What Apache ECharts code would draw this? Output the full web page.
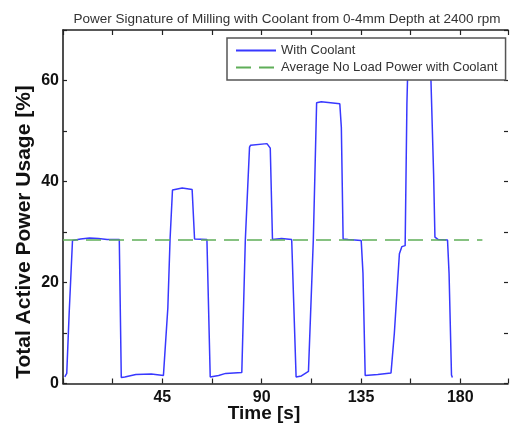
<!DOCTYPE html>
<html>
<head>
<meta charset="utf-8">
<script src="https://cdn.jsdelivr.net/npm/echarts@6/dist/echarts.min.js"></script>
<style>
  html, body { margin: 0; padding: 0; background: #fff; }
  #chart { width: 511px; height: 435px; }
</style>
</head>
<body>
<div id="chart"></div>
<script>
// Measured power trace while milling with coolant (time in s, power in %)
const timeSec = [
  0.8, 1.7, 2.8, 4.3, 8, 12, 16, 20, 25.5, 26.4, 28, 33, 40, 45.5,
  47.5, 48.5, 49.6, 54, 58.5, 59.6, 65.2, 66.7, 70.5, 73.7, 81,
  82.6, 84.5, 85, 92.4, 93.9, 94.9, 99, 103.6, 105.6, 108, 111.2,
  113.4, 114.9, 117, 125.4, 126.1, 126.9, 129.2, 135.1, 135.9, 136.9,
  142.6, 148.6, 150.1, 152.4, 153.5, 155, 155.8, 156.3, 166.3, 166.7,
  167.9, 168.5, 170, 174.2, 174.9, 176, 176.4
];
const powerPct = [
  1.3, 2.0, 14, 28.3, 28.6, 28.8, 28.7, 28.5, 28.5, 1.2, 1.3, 1.8, 1.9, 1.6,
  15, 28.5, 38.3, 38.7, 38.4, 28.6, 28.5, 1.3, 1.6, 2.0, 2.2,
  28.4, 46.8, 47.2, 47.5, 46.6, 28.5, 28.7, 28.5, 1.3, 1.5, 2.4,
  28.4, 55.6, 55.8, 55.4, 50.7, 28.6, 28.5, 28.3, 21.8, 1.6,
  1.8, 2.1, 9.9, 25.7, 27.1, 27.3, 55.3, 64, 64, 60,
  41.5, 29, 28.5, 28.4, 21.8, 1.7, 1.2
];
// Average no-load power level and the time span it is drawn over
const avgNoLoadPct = 28.4;
const avgSpanSec = [0, 190];

const xLabelTicks = [45, 90, 135, 180];
const yLabelTicks = [0, 20, 40, 60];

const FONT = "'Liberation Sans', Arial, sans-serif";

const traceData = timeSec.map((t, i) => [t, powerPct[i]]);
const avgData = avgSpanSec.map(t => [t, avgNoLoadPct]);

const chart = echarts.init(document.getElementById('chart'), null, { renderer: 'canvas' });

const axisLine = { show: true, onZero: false, lineStyle: { color: '#222', width: 1.6 } };
const tickStyle = { color: '#222', width: 1.2 };

chart.setOption({
  animation: false,
  backgroundColor: '#fff',
  title: {
    text: 'Power Signature of Milling with Coolant from 0-4mm Depth at 2400 rpm',
    left: 282,
    textAlign: 'center',
    top: 7,
    textStyle: { fontFamily: FONT, fontSize: 13.5, fontWeight: 'normal', color: '#333' }
  },
  legend: {
    orient: 'vertical',
    left: 227,
    top: 38,
    padding: [6, 8, 6, 8],
    itemGap: 4,
    itemWidth: 40,
    itemHeight: 14,
    backgroundColor: '#fff',
    borderColor: '#555',
    borderWidth: 1.5,
    borderRadius: 0,
    z: 10,
    itemStyle: { opacity: 0 },
    textStyle: { fontFamily: FONT, fontSize: 13, color: '#333' },
    data: ['With Coolant', 'Average No Load Power with Coolant']
  },
  grid: { left: 63, right: 0, top: 30, bottom: 51.5, containLabel: false },
  xAxis: [
    {
      type: 'value', min: 0, max: 201.6, interval: 22.5, position: 'bottom',
      axisLine: axisLine,
      axisTick: { show: true, inside: true, length: 5, lineStyle: tickStyle },
      splitLine: { show: false },
      axisLabel: {
        margin: 6,
        fontFamily: FONT, fontSize: 16, fontWeight: 'bold', color: '#111',
        formatter: v => xLabelTicks.includes(v) ? String(v) : ''
      }
    },
    {
      type: 'value', min: 0, max: 201.6, interval: 22.5, position: 'top',
      axisLine: axisLine,
      axisTick: { show: true, inside: true, length: 5, lineStyle: tickStyle },
      splitLine: { show: false },
      axisLabel: { show: false }
    }
  ],
  yAxis: [
    {
      type: 'value', min: 0, max: 70, interval: 10, position: 'left',
      axisLine: axisLine,
      axisTick: { show: true, inside: true, length: 4, lineStyle: tickStyle },
      splitLine: { show: false },
      axisLabel: {
        margin: 4,
        fontFamily: FONT, fontSize: 16, fontWeight: 'bold', color: '#111',
        formatter: v => yLabelTicks.includes(v) ? String(v) : ''
      }
    },
    {
      type: 'value', min: 0, max: 70, interval: 10, position: 'right',
      axisLine: { show: false, onZero: false },
      axisTick: { show: true, inside: true, length: 4, lineStyle: tickStyle },
      splitLine: { show: false },
      axisLabel: { show: false }
    }
  ],
  series: [
    {
      name: 'With Coolant',
      type: 'line',
      data: traceData,
      showSymbol: false,
      symbol: 'none',
      z: 3,
      lineStyle: { color: '#3838ff', width: 1.5 },
      itemStyle: { color: '#3838ff' }
    },
    {
      name: 'Average No Load Power with Coolant',
      type: 'line',
      data: avgData,
      showSymbol: false,
      symbol: 'none',
      z: 4,
      lineStyle: { color: '#5fae58', width: 1.5, type: [15, 8] },
      itemStyle: { color: '#5fae58' }
    }
  ],
  graphic: [
    {
      type: 'text',
      x: 24, y: 232,
      rotation: Math.PI / 2,
      style: {
        text: 'Total Active Power Usage [%]',
        font: 'bold 21px ' + FONT,
        fill: '#111',
        align: 'center',
        verticalAlign: 'middle'
      }
    },
    {
      type: 'text',
      x: 264, y: 414,
      style: {
        text: 'Time [s]',
        font: 'bold 19px ' + FONT,
        fill: '#111',
        align: 'center',
        verticalAlign: 'middle'
      }
    }
  ]
});
</script>
</body>
</html>
